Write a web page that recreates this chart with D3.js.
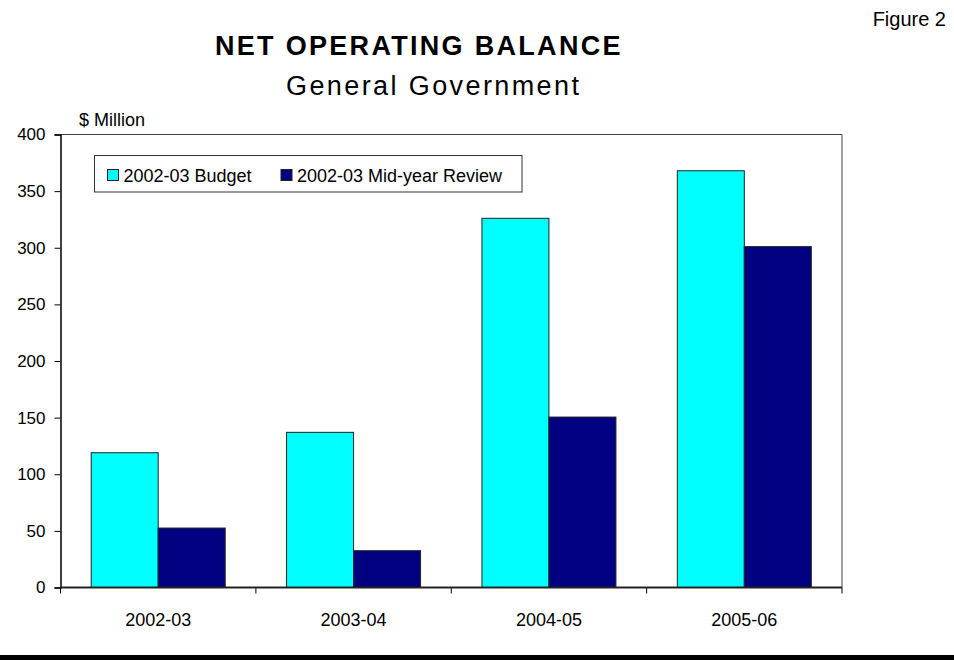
<!DOCTYPE html>
<html>
<head>
<meta charset="utf-8">
<script src="https://cdn.jsdelivr.net/npm/d3@7"></script>
<style>
  body { margin: 0; background: #fff; }
  svg text { font-family: Arial, "Liberation Sans", sans-serif; fill: #000; }
</style>
</head>
<body>
<svg id="chart" width="954" height="660"></svg>
<script>
const categories = ["2002-03", "2003-04", "2004-05", "2005-06"];
const seriesNames = ["2002-03 Budget", "2002-03 Mid-year Review"];
const budget = [119, 137, 326, 368];
const midYear = [52.5, 32.5, 150.5, 301];
const yTicks = [0, 50, 100, 150, 200, 250, 300, 350, 400];
const colors = ["#00FFFF", "#000080"];

const svg = d3.select("#chart");
const pLeft = 60.5, pRight = 842, pTop = 134.5, pBottom = 587.5;

const x = d3.scaleBand().domain(categories).range([pLeft, pRight]).paddingInner(0).paddingOuter(0);
const inner = d3.scaleBand().domain([0, 1]).range([0, x.bandwidth()]).paddingInner(0).paddingOuter(0.458);
const y = d3.scaleLinear().domain([0, 400]).range([pBottom, pTop]);

svg.append("rect").attr("width", 954).attr("height", 660).attr("fill", "#fff");

// plot frame (top & right)
svg.append("path")
  .attr("d", `M${pLeft},${pTop}H${pRight}V${pBottom}`)
  .attr("fill", "none").attr("stroke", "#444").attr("stroke-width", 1);

// bars
const seriesData = [budget, midYear];
seriesData.forEach((vals, si) => {
  svg.append("g").selectAll("rect").data(vals).join("rect")
    .attr("x", (d, i) => x(categories[i]) + inner(si))
    .attr("y", d => y(d))
    .attr("width", inner.bandwidth())
    .attr("height", d => y(0) - y(d))
    .attr("fill", colors[si])
    .attr("stroke", "#222").attr("stroke-width", 1);
});

// y axis
const yAxis = svg.append("g").attr("transform", `translate(${pLeft},0)`)
  .call(d3.axisLeft(y).tickValues(yTicks).tickSize(6).tickPadding(9));
yAxis.select(".domain").attr("stroke", "#000").attr("stroke-width", 1.5);
yAxis.selectAll(".tick line").attr("stroke", "#000");
yAxis.selectAll("text").attr("font-size", 17).attr("font-family", "Arial, 'Liberation Sans', sans-serif").attr("fill", "#000");

// x axis
const xAxis = svg.append("g").attr("transform", `translate(0,${pBottom})`)
  .call(d3.axisBottom(x).tickSize(0).tickPadding(26));
xAxis.select(".domain").remove();
xAxis.selectAll("text").attr("font-size", 18).attr("font-family", "Arial, 'Liberation Sans', sans-serif").attr("fill", "#000");
// category boundary ticks
const bounds = categories.map(c => x(c)).concat([pRight]);
svg.append("g").selectAll("line").data(bounds).join("line")
  .attr("x1", d => d).attr("x2", d => d)
  .attr("y1", pBottom).attr("y2", pBottom + 6)
  .attr("stroke", "#000");
svg.append("line").attr("x1", pLeft).attr("x2", pRight).attr("y1", pBottom).attr("y2", pBottom)
  .attr("stroke", "#222").attr("stroke-width", 2);

// unit label
svg.append("text").attr("x", 79).attr("y", 126).attr("font-size", 18).text("$ Million");

// titles
svg.append("text").attr("x", 215).attr("y", 55).attr("font-size", 27).attr("font-weight", "bold")
  .attr("letter-spacing", 2.3).text("NET OPERATING BALANCE");
svg.append("text").attr("x", 286).attr("y", 95).attr("font-size", 27)
  .attr("letter-spacing", 2.4).text("General Government");
svg.append("text").attr("x", 946).attr("y", 26).attr("font-size", 20).attr("text-anchor", "end").text("Figure 2");

// legend
const lg = svg.append("g");
lg.append("rect").attr("x", 94.5).attr("y", 155.5).attr("width", 427.5).attr("height", 36.5)
  .attr("fill", "#fff").attr("stroke", "#333").attr("stroke-width", 1);
const legendX = [107.5, 281];
seriesNames.forEach((n, i) => {
  lg.append("rect").attr("x", legendX[i]).attr("y", 169.5).attr("width", 11).attr("height", 11)
    .attr("fill", colors[i]).attr("stroke", "#222").attr("stroke-width", 1);
  lg.append("text").attr("x", legendX[i] + 16).attr("y", 181.5).attr("font-size", 18).text(n);
});

// bottom black band
svg.append("rect").attr("x", 0).attr("y", 655).attr("width", 954).attr("height", 5).attr("fill", "#000");
</script>
</body>
</html>
